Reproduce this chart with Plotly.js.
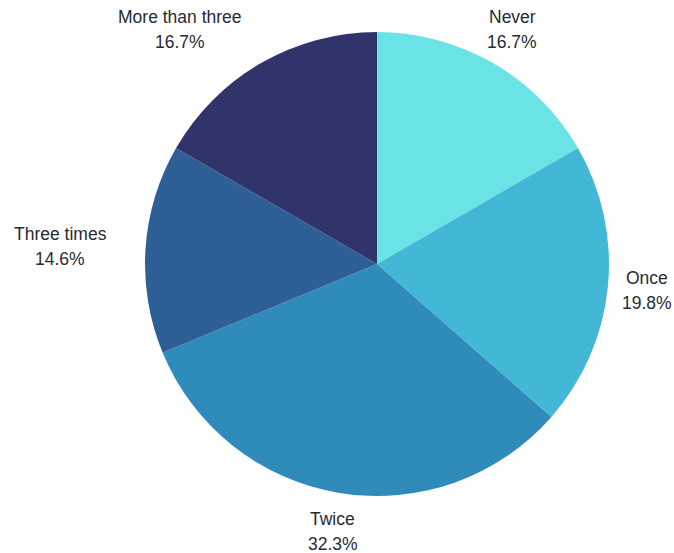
<!DOCTYPE html>
<html>
<head>
<meta charset="utf-8">
<script src="https://cdn.plot.ly/plotly-3.0.1.min.js"></script>
<style>html,body{margin:0;padding:0;background:#fff;}#chart{width:674px;height:553px;}</style>
</head>
<body>
<div id="chart"></div>
<script>
const categories = ["Never", "Once", "Twice", "Three times", "More than three"];
const counts = [16, 19, 31, 14, 16];
const colors = ["#6AE3E7", "#42B7D6", "#2E8BBA", "#2E5F97", "#31346A"];

const W = 674, H = 553;
const M = {l: 145, r: 65, t: 32, b: 57};
const plotW = W - M.l - M.r, plotH = H - M.t - M.b;
const labelFont = {family: "Liberation Sans, Arial, sans-serif", size: 17.5, color: "#262b35"};

const ctx = document.createElement("canvas").getContext("2d");
ctx.font = labelFont.size + "px 'Liberation Sans', Arial, sans-serif";

// label positions derived from each slice's mid-angle (clockwise from 12 o'clock)
const total = counts.reduce((a, b) => a + b, 0);
const annotations = [];
let cum = 0;
const labelR = 0.584; // in units of the pie's domain size (pie radius = 0.5)
counts.forEach((v, i) => {
  const mid = (cum + v / 2) / total * 2 * Math.PI;
  cum += v;
  const sx = Math.sin(mid), cy = Math.cos(mid);
  let x = 0.5 + labelR * sx * (plotH / plotW);
  const y = 0.5 + labelR * cy;
  const pct = (v / total * 100).toFixed(1) + "%";
  if (sx < -0.3) {
    // block right edge at the anchor point, lines centred within the block
    const bw = Math.max(ctx.measureText(categories[i]).width, ctx.measureText(pct).width);
    x -= (bw / 2) / plotW;
  }
  [[categories[i], 12.5], [pct, -12.5]].forEach(([txt, ys]) => {
    annotations.push({
      xref: "paper", yref: "paper", x: x, y: y, xanchor: "center", yanchor: "middle",
      yshift: ys, text: txt, showarrow: false, font: labelFont, align: "center"
    });
  });
});

Plotly.newPlot("chart", [{
  type: "pie",
  labels: categories,
  values: counts,
  sort: false,
  direction: "clockwise",
  rotation: 0,
  marker: {colors: colors, line: {width: 0}},
  textinfo: "none",
  hoverinfo: "label+percent",
  showlegend: false
}], {
  width: W, height: H,
  margin: M,
  paper_bgcolor: "#fff",
  showlegend: false,
  annotations: annotations
}, {displayModeBar: false});
</script>
</body>
</html>
